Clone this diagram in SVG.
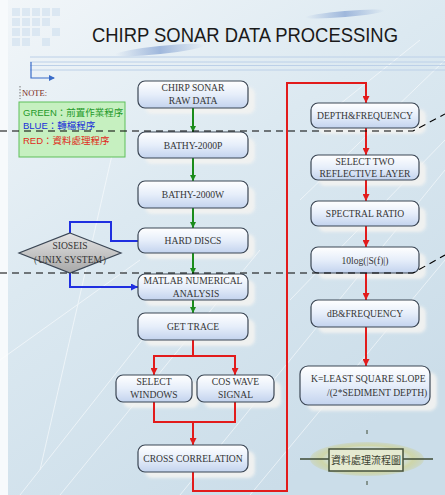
<svg xmlns="http://www.w3.org/2000/svg" width="445" height="495" viewBox="0 0 445 495">
  <defs>
    <linearGradient id="bg" x1="0" y1="0" x2="0.6" y2="1">
      <stop offset="0" stop-color="#f2f6f9"/>
      <stop offset="0.45" stop-color="#dce9f1"/>
      <stop offset="1" stop-color="#cbdde9"/>
    </linearGradient>
    <linearGradient id="boxfill" x1="0" y1="0" x2="0" y2="1">
      <stop offset="0" stop-color="#ffffff"/>
      <stop offset="0.5" stop-color="#e6eefa"/>
      <stop offset="1" stop-color="#c3d3ee"/>
    </linearGradient>
    <linearGradient id="diamondfill" x1="0" y1="0" x2="0" y2="1">
      <stop offset="0" stop-color="#e4e4e4"/>
      <stop offset="1" stop-color="#a8a8a8"/>
    </linearGradient>
    <linearGradient id="swoosh" x1="0" y1="0" x2="1" y2="0">
      <stop offset="0" stop-color="#8eaad6" stop-opacity="0"/>
      <stop offset="0.5" stop-color="#8eaad6" stop-opacity="0.8"/>
      <stop offset="1" stop-color="#8eaad6" stop-opacity="0"/>
    </linearGradient>
    <radialGradient id="ring" cx="0.5" cy="0.5" r="0.5">
      <stop offset="0.55" stop-color="#dfe6c8" stop-opacity="0"/>
      <stop offset="0.8" stop-color="#cfd49a" stop-opacity="0.8"/>
      <stop offset="1" stop-color="#c9cc8a" stop-opacity="0.3"/>
    </radialGradient>
    <filter id="soft" x="-20%" y="-20%" width="140%" height="140%">
      <feGaussianBlur stdDeviation="1.6"/>
    </filter>
    <marker id="ag" viewBox="0 0 10 10" refX="10" refY="5" markerWidth="6" markerHeight="6" markerUnits="userSpaceOnUse" orient="auto">
      <path d="M0,0 L10,5 L0,10 z" fill="#1b8c1b"/>
    </marker>
    <marker id="ar" viewBox="0 0 10 10" refX="10" refY="5" markerWidth="7" markerHeight="7" markerUnits="userSpaceOnUse" orient="auto">
      <path d="M0,0 L10,5 L0,10 z" fill="#e21b1b"/>
    </marker>
    <marker id="ab" viewBox="0 0 10 10" refX="10" refY="5" markerWidth="7" markerHeight="7" markerUnits="userSpaceOnUse" orient="auto">
      <path d="M0,0 L10,5 L0,10 z" fill="#1f2fe0"/>
    </marker>
    <style>
      .box { fill: url(#boxfill); stroke: #3b4654; stroke-width: 1.2; }
      .sh { fill: #f3f3f1; opacity: 0.9; filter: url(#soft); }
      .lbl { font-family: "Liberation Serif", "Times New Roman", serif; font-size: 9.6px; fill: #353535; text-anchor: middle; }
      .lbl.start { text-anchor: start; }
      .g { fill: none; stroke: #1b8c1b; stroke-width: 2; }
      .r { fill: none; stroke: #e21b1b; stroke-width: 2; }
      .b { fill: none; stroke: #1f2fe0; stroke-width: 2; }
      .dash { fill: none; stroke: #000; stroke-width: 1.1; stroke-dasharray: 7 5; }
      .deco { fill: none; stroke: #ffffff; stroke-width: 1; opacity: 0.55; }
      .hdr { stroke: #bcd0e8; stroke-width: 1; }
      .note { font-family: "Liberation Sans", "Noto Sans CJK TC", sans-serif; font-size: 9.5px; }
    </style>
  </defs>

  <!-- background -->
  <rect x="0" y="0" width="445" height="495" fill="url(#bg)"/>
  <rect x="0" y="0" width="8" height="495" fill="#f7fafc"/>
  <g opacity="0.5" fill="#c9dcee">
    <rect x="12" y="8" width="8" height="8"/><rect x="22" y="8" width="8" height="8"/><rect x="32" y="8" width="8" height="8"/><rect x="42" y="8" width="8" height="8"/><rect x="52" y="8" width="8" height="8"/>
    <rect x="12" y="18" width="8" height="8"/><rect x="22" y="18" width="8" height="8"/><rect x="32" y="18" width="8" height="8"/><rect x="42" y="18" width="8" height="8"/>
    <rect x="12" y="28" width="8" height="8"/><rect x="22" y="28" width="8" height="8"/><rect x="32" y="28" width="8" height="8"/><rect x="52" y="28" width="8" height="8"/>
    <rect x="12" y="38" width="8" height="8"/><rect x="22" y="38" width="8" height="8"/><rect x="42" y="38" width="8" height="8"/>
  </g>
  <g class="deco">
    <path d="M20,495 L150,330"/>
    <path d="M40,470 L120,120"/>
    <path d="M0,360 L140,260"/>
    <path d="M60,495 L260,250"/>
    <path d="M180,495 L445,170"/>
    <path d="M250,495 L445,260"/>
    <path d="M290,300 L445,140"/>
    <path d="M300,200 L445,60"/>
    <path d="M320,120 L420,40"/>
  </g>
  <ellipse cx="160" cy="50" rx="45" ry="4" fill="url(#swoosh)" transform="rotate(-6 160 50)"/>
  <ellipse cx="345" cy="14" rx="40" ry="3" fill="url(#swoosh)" transform="rotate(-5 345 14)"/>

  <!-- title and header rule -->
  <text x="245" y="42" font-family="Liberation Sans, Arial, sans-serif" font-size="21" fill="#1a1a1a" text-anchor="middle" textLength="306" lengthAdjust="spacingAndGlyphs">CHIRP SONAR DATA PROCESSING</text>
  <g class="hdr">
    <line x1="30" y1="57" x2="445" y2="57"/>
    <line x1="30" y1="62" x2="445" y2="62"/>
    <line x1="30" y1="65.5" x2="445" y2="65.5"/>
    <line x1="30" y1="70" x2="445" y2="70"/>
  </g>
  <path d="M31,62 L31,78 L54,78" fill="none" stroke="#3a6cc8" stroke-width="1.2"/>
  <path d="M49,75 L55,78 L49,81 z" fill="#3a6cc8"/>

  <!-- legend -->
  <g id="legend">
    <line x1="20" y1="86" x2="20" y2="99" stroke="#555" stroke-width="0.8" stroke-dasharray="1.5 1.5"/>
    <text x="22" y="96" font-family="Liberation Serif, serif" font-size="8.5" fill="#7a2a22">NOTE:</text>
    <rect x="19" y="102" width="106" height="55" fill="#c6f0c0" stroke="#5fbf5a" stroke-width="1"/>
    <text x="23" y="116" class="note" fill="#1f9a2a">GREEN：前置作業程序</text>
    <text x="23" y="129" class="note" fill="#2030d8">BLUE：轉檔程序</text>
    <text x="23" y="144" class="note" fill="#e02a1a">RED：資料處理程序</text>
  </g>

  <!-- shadows -->
  <g>
    <rect class="sh" x="145" y="87" width="110" height="27" rx="7"/>
    <rect class="sh" x="145" y="138" width="110" height="26" rx="7"/>
    <rect class="sh" x="145" y="187" width="110" height="27" rx="7"/>
    <rect class="sh" x="145" y="234" width="110" height="25" rx="7"/>
    <rect class="sh" x="145" y="280" width="110" height="26" rx="7"/>
    <rect class="sh" x="145" y="319" width="110" height="27" rx="7"/>
    <rect class="sh" x="123" y="381" width="76" height="27" rx="7"/>
    <rect class="sh" x="204" y="381" width="77" height="27" rx="7"/>
    <rect class="sh" x="145" y="451" width="110" height="27" rx="7"/>
    <rect class="sh" x="318" y="109" width="108" height="25" rx="7"/>
    <rect class="sh" x="318" y="161" width="108" height="25" rx="7"/>
    <rect class="sh" x="318" y="207" width="108" height="25" rx="7"/>
    <rect class="sh" x="318" y="253" width="108" height="26" rx="7"/>
    <rect class="sh" x="318" y="306" width="108" height="27" rx="7"/>
    <rect class="sh" x="307" y="372" width="130" height="39" rx="8"/>
  </g>

  <!-- connectors -->
  <g id="connectors">
    <line class="g" x1="193" y1="108" x2="193" y2="132" marker-end="url(#ag)"/>
    <line class="g" x1="193" y1="158" x2="193" y2="181" marker-end="url(#ag)"/>
    <line class="g" x1="193" y1="208" x2="193" y2="228" marker-end="url(#ag)"/>
    <line class="g" x1="193" y1="253" x2="193" y2="274" marker-end="url(#ag)"/>
    <line class="g" x1="193" y1="300" x2="193" y2="313" marker-end="url(#ag)"/>
    <path class="b" d="M70,233 L70,222 L111,222 L111,241 L138,241"/>
    <path class="b" d="M70,273 L70,287 L138,287" marker-end="url(#ab)"/>
    <path class="r" d="M193,340 L193,356 L154,356 L154,375" marker-end="url(#ar)"/>
    <path class="r" d="M193,356 L235,356 L235,375" marker-end="url(#ar)"/>
    <path class="r" d="M154,402 L154,422 L235,422 L235,402"/>
    <path class="r" d="M193,422 L193,445" marker-end="url(#ar)"/>
    <path class="r" d="M193,472 L193,491 L287,491 L287,83 L366,83 L366,103" marker-end="url(#ar)"/>
    <line class="r" x1="366" y1="128" x2="366" y2="155" marker-end="url(#ar)"/>
    <line class="r" x1="366" y1="180" x2="366" y2="201" marker-end="url(#ar)"/>
    <line class="r" x1="366" y1="226" x2="366" y2="247" marker-end="url(#ar)"/>
    <line class="r" x1="366" y1="273" x2="366" y2="300" marker-end="url(#ar)"/>
    <line class="r" x1="366" y1="327" x2="366" y2="366" marker-end="url(#ar)"/>
  </g>

  <!-- processing steps -->
  <g id="raw-data"><rect class="box" x="138" y="81" width="110" height="27" rx="7"/><text class="lbl" x="193" y="91">CHIRP SONAR</text><text class="lbl" x="193" y="104">RAW DATA</text></g>
  <g id="bathy-p"><rect class="box" x="138" y="132" width="110" height="26" rx="7"/><text class="lbl" x="193" y="148.5">BATHY-2000P</text></g>
  <g id="bathy-w"><rect class="box" x="138" y="181" width="110" height="27" rx="7"/><text class="lbl" x="193" y="198">BATHY-2000W</text></g>
  <g id="hard-discs"><rect class="box" x="138" y="228" width="110" height="25" rx="7"/><text class="lbl" x="193" y="244">HARD DISCS</text></g>
  <g id="matlab"><rect class="box" x="138" y="274" width="110" height="26" rx="7"/><text class="lbl" x="193" y="284">MATLAB NUMERICAL</text><text class="lbl" x="196" y="297">ANALYSIS</text></g>
  <g id="get-trace"><rect class="box" x="138" y="313" width="110" height="27" rx="7"/><text class="lbl" x="193" y="330">GET TRACE</text></g>
  <g id="select-windows"><rect class="box" x="116" y="375" width="76" height="27" rx="7"/><text class="lbl" x="154" y="385">SELECT</text><text class="lbl" x="154" y="398">WINDOWS</text></g>
  <g id="cos-wave"><rect class="box" x="197" y="375" width="77" height="27" rx="7"/><text class="lbl" x="235.5" y="385">COS WAVE</text><text class="lbl" x="235.5" y="398">SIGNAL</text></g>
  <g id="cross-correlation"><rect class="box" x="138" y="445" width="110" height="27" rx="7"/><text class="lbl" x="193" y="462">CROSS CORRELATION</text></g>

  <g id="sioseis">
    <polygon points="70,233 121,253 70,273 19,253" fill="url(#diamondfill)" stroke="#3b4654" stroke-width="1.2"/>
    <text class="lbl" x="70" y="249">SIOSEIS</text>
    <text class="lbl" x="70" y="263">（UNIX SYSTEM）</text>
  </g>

  <g id="depth-frequency"><rect class="box" x="311" y="103" width="108" height="25" rx="7"/><text class="lbl" x="365" y="119">DEPTH&amp;FREQUENCY</text></g>
  <g id="select-layers"><rect class="box" x="311" y="155" width="108" height="25" rx="7"/><text class="lbl" x="365" y="165">SELECT TWO</text><text class="lbl" x="365" y="177">REFLECTIVE LAYER</text></g>
  <g id="spectral-ratio"><rect class="box" x="311" y="201" width="108" height="25" rx="7"/><text class="lbl" x="365" y="217">SPECTRAL RATIO</text></g>
  <g id="log-spectrum"><rect class="box" x="311" y="247" width="108" height="26" rx="7"/><text class="lbl" x="365" y="263.5">10log(|S(f)|)</text></g>
  <g id="db-frequency"><rect class="box" x="311" y="300" width="108" height="27" rx="7"/><text class="lbl" x="365" y="317">dB&amp;FREQUENCY</text></g>
  <g id="slope"><rect class="box" x="300" y="366" width="130" height="39" rx="8"/><text class="lbl start" x="311" y="382">K=LEAST SQUARE SLOPE</text><text class="lbl start" x="327" y="396">/(2*SEDIMENT DEPTH)</text></g>

  <!-- dashed guide lines -->
  <path class="dash" d="M0,131 L413,131 L445,114"/>
  <path class="dash" d="M0,273 L413,273 L445,255"/>

  <!-- caption emblem -->
  <g id="caption">
    <ellipse cx="367" cy="459" rx="57" ry="17" fill="url(#ring)"/>
    <line x1="300" y1="459" x2="433" y2="459" stroke="#3e4a34" stroke-width="1.5"/>
    <line x1="367" y1="430" x2="367" y2="434" stroke="#3e4a34" stroke-width="1"/>
    <line x1="367" y1="481" x2="367" y2="485" stroke="#3e4a34" stroke-width="1"/>
    <rect x="329" y="449" width="74" height="22" fill="#e5ead0" stroke="#44503a" stroke-width="1.5"/>
    <text x="366" y="464" font-family="Noto Sans CJK TC, sans-serif" font-size="10" fill="#3a4030" text-anchor="middle">資料處理流程圖</text>
  </g>
</svg>
